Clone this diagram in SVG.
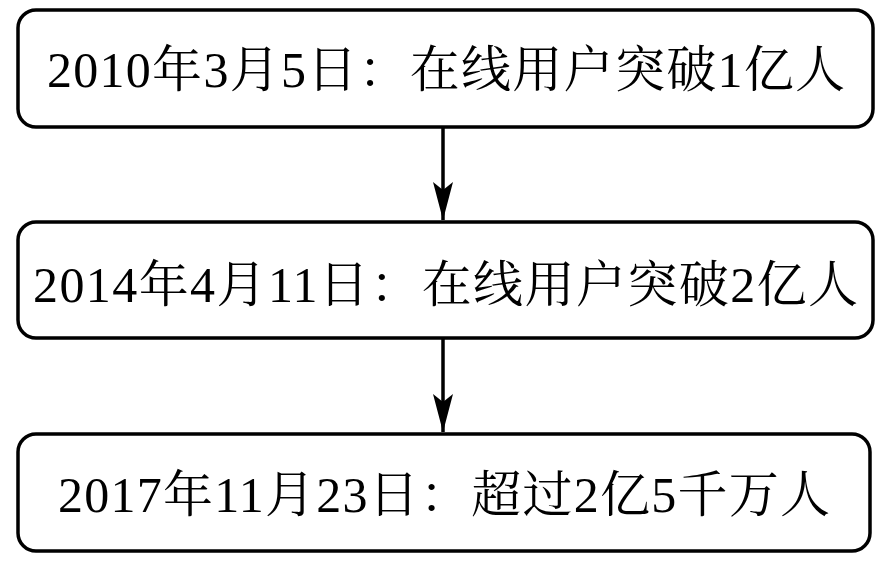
<svg xmlns="http://www.w3.org/2000/svg" width="890" height="569" viewBox="0 0 890 569">
<defs>
<style>
.box{fill:#fff;stroke:#000;stroke-width:3.5}
.t{font-family:"Liberation Serif","Noto Serif CJK SC","Noto Sans CJK SC",serif;font-size:50px;fill:#000;text-anchor:middle}
.c{stroke:#000;stroke-width:3.5;fill:none}
</style>
<marker id="ah" markerUnits="userSpaceOnUse" markerWidth="40" markerHeight="22" refX="38" refY="10" orient="auto" viewBox="0 0 40 22">
<path d="M0,0 L38,10 L0,20 L8,10 Z" fill="#000"/>
</marker>
</defs>
<rect width="890" height="569" fill="#fff"/>
<g id="node1">
<rect class="box" x="18" y="10" width="855" height="117" rx="18"/>
<text class="t" x="446" y="87" textLength="798" lengthAdjust="spacing">2010年3月5日：在线用户突破1亿人</text>
</g>
<g id="node2">
<rect class="box" x="18" y="222" width="855" height="116" rx="18"/>
<text class="t" x="445.5" y="302" textLength="825" lengthAdjust="spacing">2014年4月11日：在线用户突破2亿人</text>
</g>
<g id="node3">
<rect class="box" x="18" y="434" width="852" height="117" rx="18"/>
<text class="t" x="444" y="512" textLength="772" lengthAdjust="spacing">2017年11月23日：超过2亿5千万人</text>
</g>
<g id="connectors">
<line class="c" x1="443" y1="127" x2="443" y2="220" marker-end="url(#ah)"/>
<line class="c" x1="443" y1="338" x2="443" y2="432" marker-end="url(#ah)"/>
</g>
</svg>
